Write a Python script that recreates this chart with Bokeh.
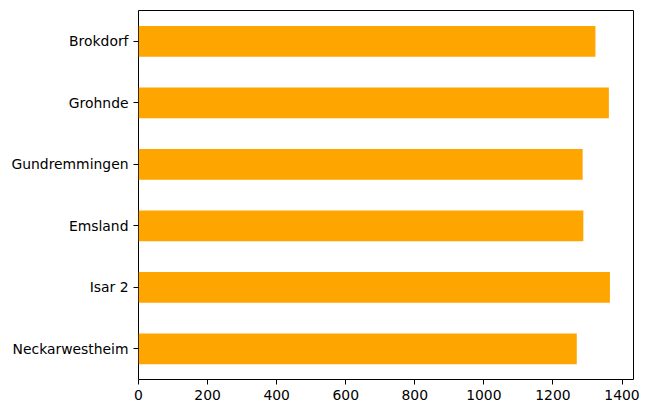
from bokeh.plotting import figure
from bokeh.models import FactorRange, Range1d, FixedTicker
from bokeh.embed import file_html
from bokeh.resources import INLINE

plants = ["Brokdorf", "Grohnde", "Gundremmingen", "Emsland", "Isar 2", "Neckarwestheim"]
capacity = [1323, 1362, 1286, 1288, 1365, 1269]
x_ticks = [0, 200, 400, 600, 800, 1000, 1200, 1400]

factors = list(reversed(plants))
xmax = max(capacity) * 1.05

p = figure(width=648, height=408, output_backend="svg", toolbar_location=None,
           y_range=FactorRange(factors=factors, range_padding=0),
           x_range=Range1d(0, xmax),
           min_border_left=138, min_border_right=15, min_border_top=10, min_border_bottom=29)

p.hbar(y=plants, right=capacity, left=0, height=0.5, color="#FFA500", line_color=None)

p.xgrid.visible = False
p.ygrid.visible = False
p.outline_line_color = "black"
p.outline_line_width = 1
p.outline_line_alpha = 1
p.background_fill_color = "white"
p.border_fill_color = "white"

p.xaxis.ticker = FixedTicker(ticks=x_ticks)
for ax in (p.xaxis[0], p.yaxis[0]):
    ax.axis_line_color = None
    ax.major_tick_out = 5
    ax.major_tick_in = 0
    ax.minor_tick_out = 0
    ax.minor_tick_in = 0
    ax.major_tick_line_color = "black"
    ax.major_tick_line_width = 1
    ax.major_label_standoff = 5
    ax.major_label_text_font = "DejaVu Sans"
    ax.major_label_text_font_size = "13.9px"
    ax.major_label_text_color = "black"

open("out.html", "w").write(file_html(p, INLINE))
